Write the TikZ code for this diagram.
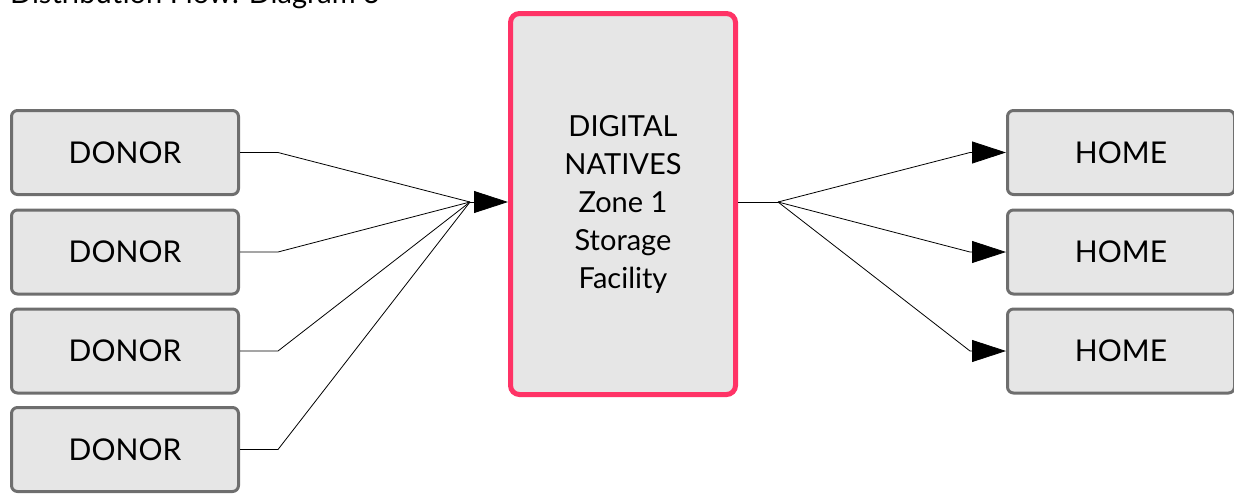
\documentclass[tikz,border=0pt]{standalone}
\usepackage{fontspec}
\setmainfont{Lato}
\usetikzlibrary{arrows.meta}
\definecolor{boxfill}{HTML}{E6E6E6}
\definecolor{boxline}{HTML}{6E6E6E}
\definecolor{hubline}{HTML}{FF3366}
\tikzset{
  endbox/.style={draw=boxline, line width=3pt, fill=boxfill, rounded corners=6pt,
    minimum width=227pt, minimum height=84pt, inner sep=0pt,
    font=\fontsize{30}{36}\selectfont},
  hubbox/.style={draw=hubline, line width=5pt, fill=boxfill, rounded corners=9pt,
    minimum width=225pt, minimum height=381pt, inner sep=0pt, align=center,
    font=\fontsize{29}{38}\selectfont},
  link/.style={draw=black, line width=0.8pt},
  arrowlink/.style={link, -{Triangle[length=34pt,width=22pt]}},
}
\begin{document}
\begin{tikzpicture}[x=1pt,y=-1pt]
\useasboundingbox (0,0) rectangle (1234,493);
\node[anchor=base west, font=\fontsize{29}{34}\selectfont, inner sep=0pt] (title) at (10,3) {Distribution Flow: Diagram 3};
\node[endbox] (d1) at (125,152.5) {DONOR};
\node[endbox] (d2) at (125,252) {DONOR};
\node[endbox] (d3) at (125,351) {DONOR};
\node[endbox] (d4) at (125,449.5) {DONOR};
\node[hubbox] (hub) at (623,204) {DIGITAL\\NATIVES\\Zone 1\\Storage\\Facility};
\node[endbox] (h1) at (1121,152.5) {HOME};
\node[endbox] (h2) at (1121,252) {HOME};
\node[endbox] (h3) at (1121,351) {HOME};
\coordinate (jin) at (470,202);
\coordinate (jout) at (778,202);
\foreach \d in {d1,d2,d3,d4}{
  \draw[link] (\d.east) -- ++(38,0) -- (jin);
}
\draw[arrowlink] (jin) -- (jin -| hub.west);
\draw[link] (jout -| hub.east) -- (jout);
\foreach \h in {h1,h2,h3}{
  \draw[arrowlink] (jout) -- ([xshift=-36pt]\h.west) -- (\h.west);
}
\end{tikzpicture}
\end{document}
